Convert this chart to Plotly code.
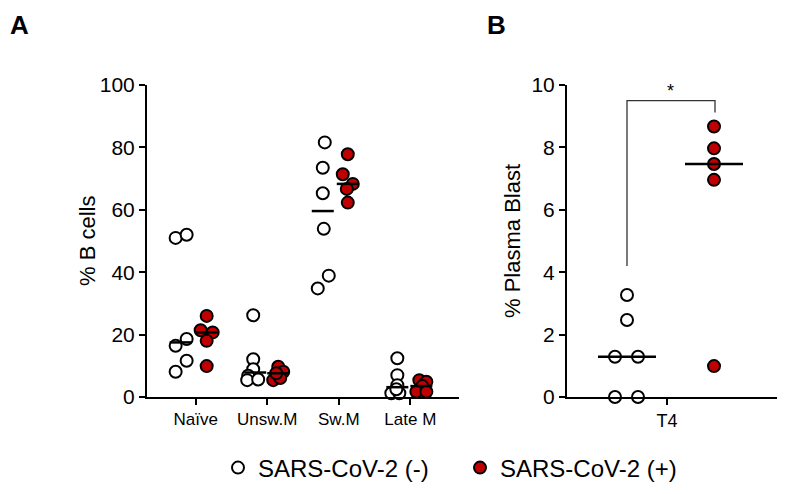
import numpy as np
import plotly.graph_objects as go

# ---------------- data ----------------
categories = ["Naïve", "Unsw.M", "Sw.M", "Late M"]

neg_naive = [51.0, 52.0, 16.4, 18.6, 11.6, 8.1]
neg_unsw = [26.2, 12.1, 8.9, 6.8, 5.4, 5.6]
neg_sw = [81.6, 73.5, 65.3, 53.9, 38.9, 34.8]
neg_late = [12.4, 7.0, 3.8, 1.2, 1.2, 2.5]

pos_naive = [26.0, 21.4, 20.7, 18.0, 9.9]
pos_unsw = [9.7, 8.1, 5.4, 6.1, 7.6]
pos_sw = [77.8, 71.4, 68.3, 66.7, 62.3]
pos_late = [5.4, 4.9, 3.5, 1.7, 1.7]

plasma_neg = [3.27, 2.47, 1.29, 1.29, 0.0, 0.0]
plasma_pos = [8.67, 7.97, 7.47, 6.96, 0.99]
plasma_category = "T4"

# ---------------- layout helpers (positions / styles) ----------------
W, H = 791, 494
OFF = 8  # page body margin offset


def px_x(p):
    return (p - OFF) / W


def px_y(p):
    return (H - (p - OFF)) / H


PX = 71.5  # pixels per category unit in panel A

# jitter offsets (pixels from the category tick)
jit_neg = [
    [-20, -9, -20, -9, -9, -20],
    [-14, -14, -14, -19, -20, -9],
    [-14, -16, -16, -15, -10, -21],
    [-13, -13, -13, -19, -11, -14],
]
jit_pos = [
    [11, 5, 17, 11, 11],
    [11, 16, 6, 13, 9],
    [9, 4, 14, 8, 9],
    [9, 16, 12, 6, 16],
]
med_neg_center = [-15, -12, -16, -13]
med_pos_center = [11, 11, 9, 11]
med_half_A = 11

# panel B offsets (pixel-like axis units, T4 tick at 0)
jitB_neg = [-40, -40, -52, -29, -52, -29]
jitB_pos = [47, 47, 47, 47, 47]
medB_neg_center, medB_pos_center, medB_half = -40, 47, 29

RED = "#c00000"
FONT = "Liberation Sans, Arial, sans-serif"
mk_neg = dict(size=12, color="white", line=dict(color="black", width=2))
mk_pos = dict(size=12, color=RED, line=dict(color="black", width=2))

neg_A = [neg_naive, neg_unsw, neg_sw, neg_late]
pos_A = [pos_naive, pos_unsw, pos_sw, pos_late]

fig = go.Figure()

# Panel A points
for i, cat in enumerate(categories):
    fig.add_trace(go.Scatter(
        x=[i + j / PX for j in jit_neg[i]], y=neg_A[i], mode="markers",
        marker=mk_neg, xaxis="x", yaxis="y", cliponaxis=False,
        name="SARS-CoV-2 (-)", legendgroup="neg", showlegend=(i == 0)))
for i, cat in enumerate(categories):
    fig.add_trace(go.Scatter(
        x=[i + j / PX for j in jit_pos[i]], y=pos_A[i], mode="markers",
        marker=mk_pos, xaxis="x", yaxis="y", cliponaxis=False,
        name="SARS-CoV-2 (+)", legendgroup="pos", showlegend=(i == 0)))
# Panel A medians
for i in range(len(categories)):
    for vals, c in ((neg_A[i], med_neg_center[i]), (pos_A[i], med_pos_center[i])):
        m = float(np.median(vals))
        fig.add_trace(go.Scatter(
            x=[i + (c - med_half_A) / PX, i + (c + med_half_A) / PX], y=[m, m],
            mode="lines", line=dict(color="black", width=2.5),
            xaxis="x", yaxis="y", showlegend=False, hoverinfo="skip"))

# Panel B points
fig.add_trace(go.Scatter(x=jitB_neg, y=plasma_neg, mode="markers", marker=mk_neg,
                         xaxis="x2", yaxis="y2", cliponaxis=False, showlegend=False))
fig.add_trace(go.Scatter(x=jitB_pos, y=plasma_pos, mode="markers", marker=mk_pos,
                         xaxis="x2", yaxis="y2", cliponaxis=False, showlegend=False))
for vals, c in ((plasma_neg, medB_neg_center), (plasma_pos, medB_pos_center)):
    m = float(np.median(vals))
    fig.add_trace(go.Scatter(x=[c - medB_half, c + medB_half], y=[m, m], mode="lines",
                             line=dict(color="black", width=2.5), xaxis="x2", yaxis="y2",
                             showlegend=False, hoverinfo="skip"))
# significance bracket
top = 9.5
fig.add_trace(go.Scatter(
    x=[medB_neg_center, medB_neg_center, medB_pos_center + 1, medB_pos_center + 1],
    y=[max(plasma_neg) + 0.93, top, top, max(plasma_pos) + 0.45],
    mode="lines", line=dict(color="#333", width=1.3), xaxis="x2", yaxis="y2",
    showlegend=False, hoverinfo="skip"))

y_dom = [px_y(397), px_y(85)]
ax_common = dict(showline=True, linewidth=2, linecolor="black", ticks="outside",
                 ticklen=6, tickwidth=2, tickcolor="black", showgrid=False,
                 zeroline=False, automargin=False)

fig.update_layout(
    width=W, height=H, margin=dict(l=0, r=0, t=0, b=0, autoexpand=False),
    paper_bgcolor="white", plot_bgcolor="white",
    font=dict(family=FONT, color="black"),
    xaxis=dict(domain=[px_x(147), px_x(459)], range=[-0.68, 3.68],
               tickvals=list(range(len(categories))), ticktext=categories,
               tickfont=dict(size=17), anchor="y", **ax_common),
    yaxis=dict(domain=y_dom, range=[0, 100], tickvals=[0, 20, 40, 60, 80, 100],
               tickfont=dict(size=21), anchor="x", **ax_common),
    xaxis2=dict(domain=[px_x(567), px_x(777)], range=[-100, 110],
                tickvals=[0], ticktext=[plasma_category],
                tickfont=dict(size=18), anchor="y2", **ax_common),
    yaxis2=dict(domain=y_dom, range=[0, 10], tickvals=[0, 2, 4, 6, 8, 10],
                tickfont=dict(size=21), anchor="x2", **ax_common),
    showlegend=True,
    legend=dict(orientation="h", x=px_x(218), xanchor="left", y=px_y(468),
                yanchor="middle", font=dict(size=24), itemsizing="constant",
                entrywidth=197, bgcolor="rgba(0,0,0,0)"),
    annotations=[
        dict(text="<b>A</b>", x=px_x(8), y=px_y(25), xref="paper", yref="paper",
             xanchor="left", yanchor="middle", showarrow=False, font=dict(size=26)),
        dict(text="<b>B</b>", x=px_x(485), y=px_y(25), xref="paper", yref="paper",
             xanchor="left", yanchor="middle", showarrow=False, font=dict(size=26)),
        dict(text="% B cells", x=px_x(88), y=px_y(241), xref="paper", yref="paper",
             textangle=-90, xanchor="center", yanchor="middle", showarrow=False,
             font=dict(size=22)),
        dict(text="% Plasma Blast", x=px_x(513), y=px_y(241), xref="paper",
             yref="paper", textangle=-90, xanchor="center", yanchor="middle",
             showarrow=False, font=dict(size=22)),
        dict(text="*", x=(medB_neg_center + medB_pos_center) / 2, y=top,
             xref="x2", yref="y2", yanchor="bottom", showarrow=False,
             font=dict(size=18), yshift=-2),
    ],
)

fig.write_html("out.html")
